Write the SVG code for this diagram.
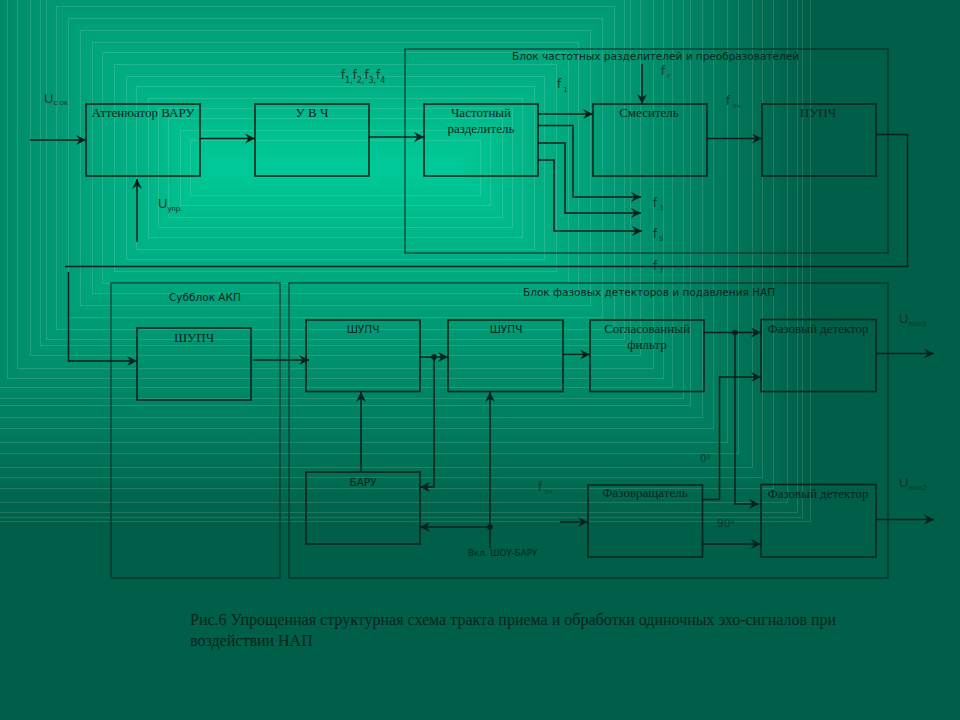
<svg xmlns="http://www.w3.org/2000/svg" width="960" height="720" viewBox="0 0 960 720">
<style>
.box{fill:none;stroke:#06261d;stroke-width:1.6}
.block{fill:none;stroke:#06261d;stroke-width:1}
.c{fill:none;stroke:#04201a;stroke-width:1.5}
.c2{fill:none;stroke:#04201a;stroke-width:1.5;marker-end:url(#a)}
.bg{shape-rendering:crispEdges}
.contour rect{fill:none;stroke:#fff;stroke-opacity:.13;stroke-width:1;shape-rendering:crispEdges}
text{fill:#08241b}
.s{font-family:"Liberation Serif",serif;font-size:13px;text-anchor:middle}
.d{font-family:"DejaVu Sans",sans-serif;font-size:10.500px}
.dm{font-family:"DejaVu Sans",sans-serif;font-size:10.500px;text-anchor:middle}
.f{font-family:"DejaVu Sans",sans-serif;font-size:11.500px;fill:#10382b}
.u{font-family:"Liberation Sans",sans-serif;font-size:13px;fill:#10382b}
.sub{font-size:8px}
.sm{font-size:6.500px}
.cap{font-family:"Liberation Serif",serif;font-size:16px;fill:#06241b}
</style>
<defs>
<marker id="a" markerUnits="userSpaceOnUse" markerWidth="11" markerHeight="11" refX="10" refY="5.500" orient="auto"><path d="M0,.5 L10,5.500 L0,10.500 L3.500,5.500 Z" fill="#04201a"/></marker>
<linearGradient id="gl" gradientUnits="userSpaceOnUse" x1="210" y1="0" x2="-140" y2="0"><stop offset="0" stop-color="#00c896"/><stop offset="1" stop-color="#005f48"/></linearGradient>
<linearGradient id="gr" gradientUnits="userSpaceOnUse" x1="460" y1="0" x2="810" y2="0"><stop offset="0" stop-color="#00c896"/><stop offset="1" stop-color="#005f48"/></linearGradient>
<linearGradient id="gt" gradientUnits="userSpaceOnUse" x1="0" y1="160" x2="0" y2="-190"><stop offset="0" stop-color="#00c896"/><stop offset="1" stop-color="#005f48"/></linearGradient>
<linearGradient id="gb" gradientUnits="userSpaceOnUse" x1="0" y1="175" x2="0" y2="525"><stop offset="0" stop-color="#00c896"/><stop offset="1" stop-color="#005f48"/></linearGradient>
</defs>

<g id="background" class="bg">
<rect width="960" height="720" fill="#005f48"/>
<polygon points="-140,-190 810,-190 460,160 210,160" fill="url(#gt)"/>
<polygon points="-140,525 810,525 460,175 210,175" fill="url(#gb)"/>
<polygon points="-140,-190 210,160 210,175 -140,525" fill="url(#gl)"/>
<polygon points="810,-190 460,160 460,175 810,525" fill="url(#gr)"/>
<rect x="209" y="159" width="252" height="17" fill="#00c896"/>
</g>
<g class="contour">
<rect x="190" y="140" width="290" height="55"/>
<rect x="180" y="130" width="310" height="75"/>
<rect x="168" y="118" width="334" height="99"/>
<rect x="158" y="108" width="354" height="119"/>
<rect x="148" y="98" width="374" height="139"/>
<rect x="136" y="86" width="398" height="163"/>
<rect x="126" y="76" width="418" height="183"/>
<rect x="114" y="64" width="442" height="207"/>
<rect x="102" y="52" width="466" height="231"/>
<rect x="92" y="42" width="486" height="251"/>
<rect x="80" y="30" width="510" height="275"/>
<rect x="68" y="18" width="534" height="299"/>
<rect x="56" y="6" width="558" height="323"/>
<rect x="46" y="-4" width="578" height="343"/>
<rect x="40" y="-10" width="590" height="355"/>
<rect x="30" y="-20" width="610" height="375"/>
<rect x="17" y="-33" width="636" height="401"/>
<rect x="7" y="-43" width="656" height="421"/>
<rect x="-2" y="-52" width="674" height="439"/>
<rect x="-13" y="-63" width="696" height="461"/>
<rect x="-20" y="-70" width="710" height="475"/>
<rect x="-32" y="-82" width="734" height="499"/>
<rect x="-43" y="-93" width="756" height="521"/>
<rect x="-57" y="-107" width="784" height="549"/>
<rect x="-68" y="-118" width="806" height="571"/>
<rect x="-82" y="-132" width="834" height="599"/>
<rect x="-92" y="-142" width="854" height="619"/>
<rect x="-103" y="-153" width="876" height="641"/>
<rect x="-117" y="-167" width="904" height="669"/>
<rect x="-127" y="-177" width="924" height="689"/>
<rect x="-132" y="-182" width="934" height="699"/>
<rect x="-140" y="-190" width="950" height="711"/>
</g>

<g id="block-freq">
<rect class="block" x="405" y="49" width="483" height="204"/>
<text class="d" x="512" y="60">Блок частотных разделителей и преобразователей</text>
</g>
<g id="block-akp">
<rect class="block" x="111" y="283" width="169" height="295"/>
<text class="d" x="169" y="301">Субблок АКП</text>
</g>
<g id="block-phase">
<rect class="block" x="289" y="283" width="599" height="295"/>
<text class="d" x="523" y="296">Блок фазовых детекторов и подавления НАП</text>
</g>

<g id="attenuator"><rect class="box" x="86" y="104" width="114" height="72"/><text class="s" x="143" y="117">Аттенюатор ВАРУ</text></g>
<g id="uhf"><rect class="box" x="255" y="104" width="114" height="72"/><text class="s" x="312" y="117">У В Ч</text></g>
<g id="splitter"><rect class="box" x="424" y="104" width="114" height="72"/><text class="s" x="481" y="117">Частотный</text><text class="s" x="481" y="133">разделитель</text></g>
<g id="mixer"><rect class="box" x="593" y="104" width="114" height="72"/><text class="s" x="649" y="117">Смеситель</text></g>
<g id="pupch"><rect class="box" x="762" y="104" width="114" height="72"/><text class="s" x="818" y="117">ПУПЧ</text></g>
<g id="shupch-akp"><rect class="box" x="137" y="328" width="114" height="72"/><text class="s" x="194" y="342">ШУПЧ</text></g>
<g id="shupch1"><rect class="box" x="306" y="320" width="114" height="71.500"/><text class="dm" x="363" y="333">ШУПЧ</text></g>
<g id="shupch2"><rect class="box" x="448" y="320" width="115" height="71.500"/><text class="dm" x="506" y="333">ШУПЧ</text></g>
<g id="matched-filter"><rect class="box" x="590" y="320" width="114" height="71.500"/><text class="s" x="647" y="333">Согласованный</text><text class="s" x="647" y="349">фильтр</text></g>
<g id="detector1"><rect class="box" x="761" y="319.500" width="115" height="72"/><text class="s" x="818" y="333">Фазовый детектор</text></g>
<g id="baru"><rect class="box" x="306" y="472" width="114" height="72"/><text class="dm" x="363" y="486">БАРУ</text></g>
<g id="phase-shifter"><rect class="box" x="588" y="485" width="114.500" height="72"/><text class="s" x="645" y="497">Фазовращатель</text></g>
<g id="detector2"><rect class="box" x="761" y="484.500" width="115" height="72.500"/><text class="s" x="818" y="498">Фазовый детектор</text></g>

<g id="connectors">
<path class="c2" d="M30,140H86"/>
<path class="c2" d="M200,138.500H255"/>
<path class="c2" d="M369,137H424"/>
<path class="c2" d="M137,242V179"/>
<path class="c2" d="M538,114H593"/>
<path class="c2" d="M642,64V104"/>
<path class="c2" d="M707,138.500H762"/>
<path class="c2" d="M538,125.500H573V197H641"/>
<path class="c2" d="M538,143H565V213H641"/>
<path class="c2" d="M538,160H554V231H642"/>
<path class="c" d="M876,134.500H907.500V266.500H65"/>
<path class="c2" d="M68.500,272V361H137"/>
<path class="c2" d="M253,360H309"/>
<path class="c2" d="M420,357H448"/>
<path class="c2" d="M434,357V487H420"/>
<path class="c2" d="M361,472V392"/>
<path class="c2" d="M490,548V392"/>
<path class="c2" d="M490,527H420"/>
<path class="c2" d="M563,354.500H590"/>
<path class="c2" d="M704,332.500H761"/>
<path class="c2" d="M735,332.500V504H759"/>
<path class="c2" d="M702.500,499.500H719.500V377H761"/>
<path class="c2" d="M702.500,544H761"/>
<path class="c2" d="M560,522H588"/>
<path class="c2" d="M876,353.500H934"/>
<path class="c2" d="M876,519.500H934"/>
<circle cx="434" cy="357" r="2.800" fill="#04201a"/>
<circle cx="490" cy="527" r="2.800" fill="#04201a"/>
<circle cx="735" cy="332.500" r="2.800" fill="#04201a"/>
</g>

<g id="labels">
<text class="u" x="44" y="103">U<tspan class="sub" dy="2">с ок</tspan></text>
<text class="f" x="341" y="79">f<tspan dy="4" style="font-size:8px">1,</tspan><tspan dy="-4">f</tspan><tspan dy="4" style="font-size:8px">2,</tspan><tspan dy="-4">f</tspan><tspan dy="4" style="font-size:8px">3,</tspan><tspan dy="-4">f</tspan><tspan dy="4" style="font-size:8px">4</tspan></text>
<text class="u" x="158" y="208">U<tspan class="sub" dy="3">упр.</tspan></text>
<text class="f" x="557" y="88">f<tspan dy="4" style="font-size:7px"> 1</tspan></text>
<text class="f" x="661" y="75">f<tspan class="sm" dy="3"> г</tspan></text>
<text class="f" x="726" y="105">f<tspan class="sm" dy="3"> пч</tspan></text>
<text class="f" x="653" y="207">f<tspan class="sm" dy="3"> 3</tspan></text>
<text class="f" x="653" y="238">f<tspan class="sm" dy="3"> 5</tspan></text>
<text class="f" x="653" y="270">f<tspan class="sm" dy="3"> 7</tspan></text>
<text class="f" x="538" y="491">f<tspan class="sm" dy="3"> пч</tspan></text>
<text class="d" x="468" y="556" style="font-size:8.700px">Вкл. ШОУ-БАРУ</text>
<text class="f" x="700" y="462" style="font-size:10px">0<tspan dy="-3" style="font-size:6px">0</tspan></text>
<text class="f" x="717" y="527" style="font-size:10.500px">90<tspan dy="-3" style="font-size:6px">0</tspan></text>
<text class="u" x="899" y="323">U<tspan class="sub" dy="3">вых1</tspan></text>
<text class="u" x="899" y="487">U<tspan class="sub" dy="3">вых2</tspan></text>
</g>

<g id="caption">
<text class="cap" x="190" y="625">Рис.6 Упрощенная структурная схема тракта приема и обработки одиночных эхо-сигналов при</text>
<text class="cap" x="190" y="646">воздействии НАП</text>
</g>
</svg>
